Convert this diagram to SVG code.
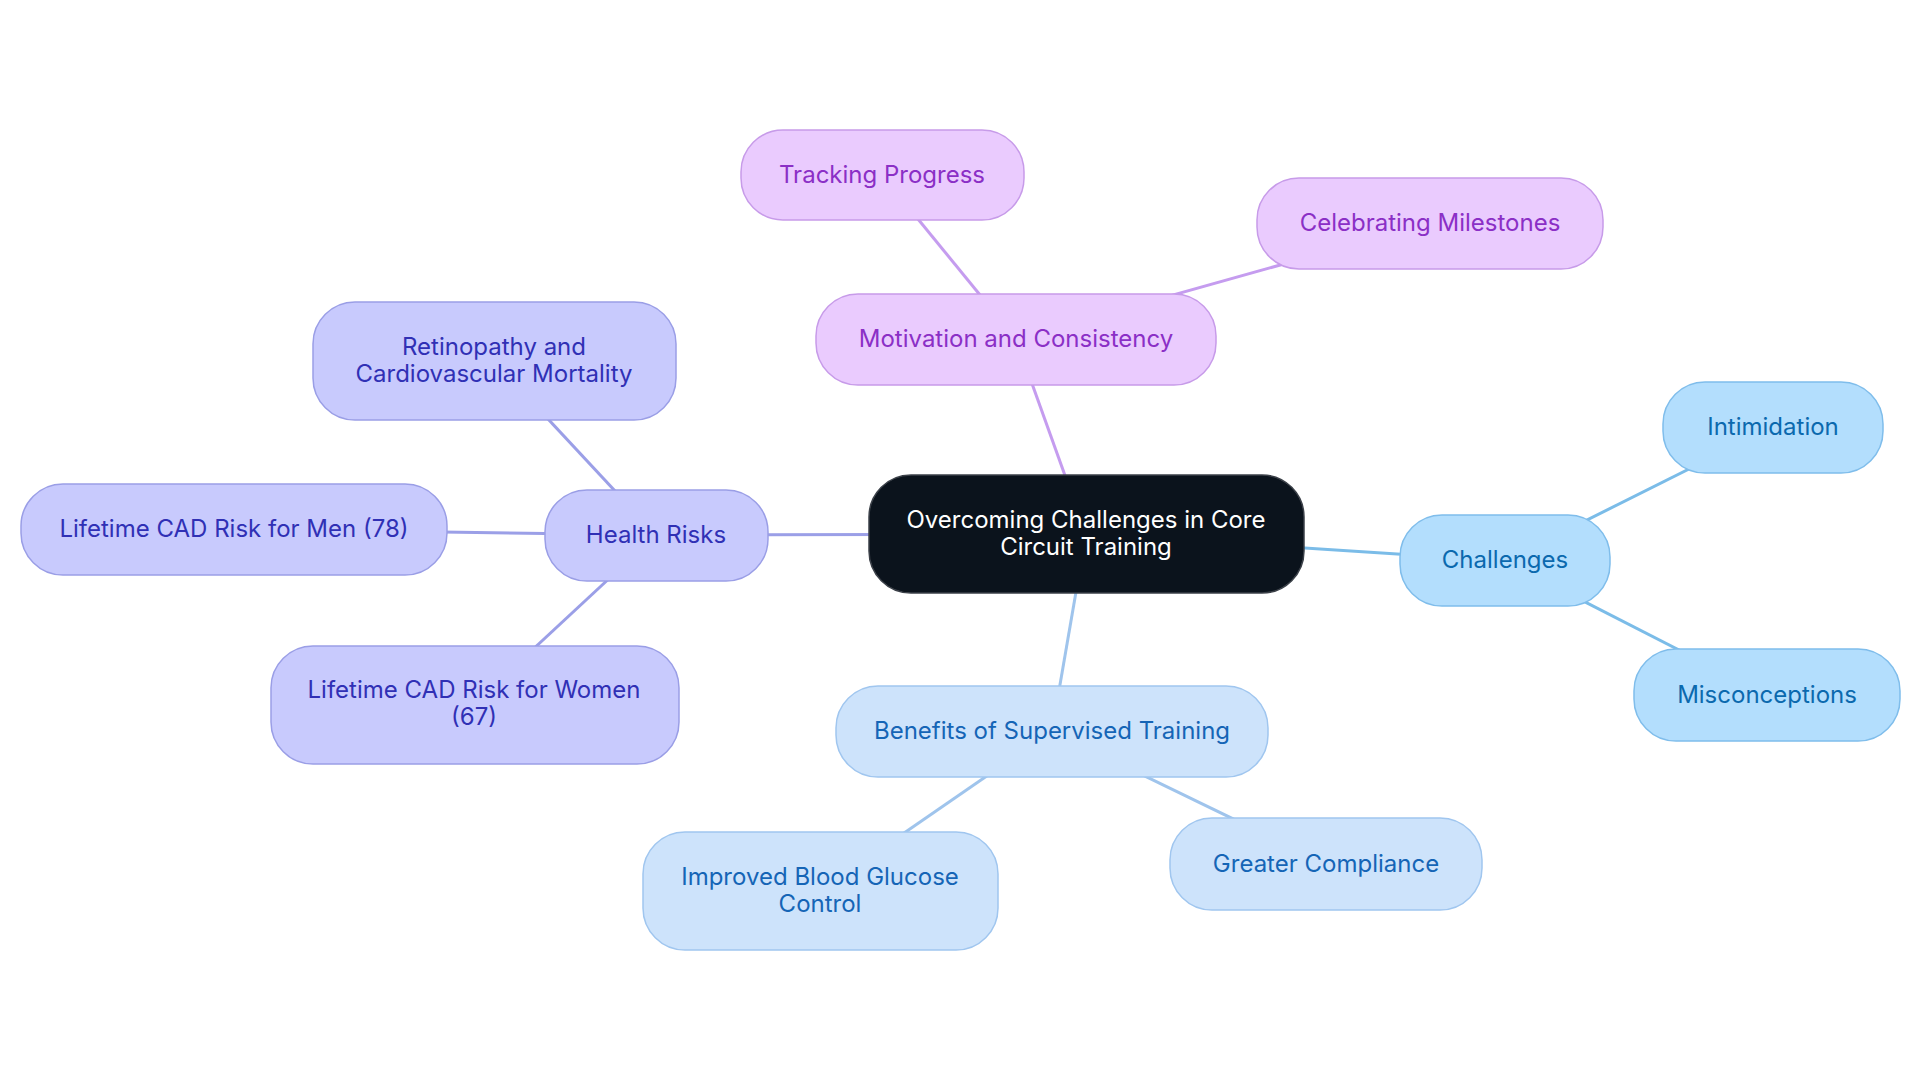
<svg xmlns="http://www.w3.org/2000/svg" width="1920" height="1083" viewBox="0 0 1920 1083">
<style>
text{font-family:Inter,"Noto Sans",sans-serif;font-size:24px;text-anchor:middle;dominant-baseline:central}
.root rect{fill:#0b131c;stroke:#3b4048;stroke-width:1.5}
.root text{fill:#ffffff}
.pu rect{fill:#eacbfe;stroke:#c79be9;stroke-width:1.5}
.pu text{fill:#8b2fc6}
.hr rect{fill:#c8cafd;stroke:#9a9ee6;stroke-width:1.5}
.hr text{fill:#3030b5}
.bn rect{fill:#cde3fb;stroke:#a0c6ef;stroke-width:1.5}
.bn text{fill:#1565b6}
.ch rect{fill:#b3defd;stroke:#7fbdeb;stroke-width:1.5}
.ch text{fill:#0b69ae}
#connectors line{stroke-width:3;fill:none}
</style>
<rect width="1920" height="1083" fill="#ffffff"/>
<g id="connectors">
<line x1="1086" y1="534" x2="1016" y2="339" stroke="#c59cef"/>
<line x1="1016" y1="339" x2="882" y2="175" stroke="#c59cef"/>
<line x1="1016" y1="339" x2="1430" y2="223" stroke="#c59cef"/>
<line x1="1086" y1="534" x2="656" y2="535" stroke="#9b9fe7"/>
<line x1="656" y1="535" x2="494" y2="361" stroke="#9b9fe7"/>
<line x1="656" y1="535" x2="234" y2="529" stroke="#9b9fe7"/>
<line x1="656" y1="535" x2="474" y2="704" stroke="#9b9fe7"/>
<line x1="1086" y1="534" x2="1052" y2="731" stroke="#9fc4ec"/>
<line x1="1052" y1="731" x2="820" y2="891" stroke="#9fc4ec"/>
<line x1="1052" y1="731" x2="1326" y2="864" stroke="#9fc4ec"/>
<line x1="1086" y1="534" x2="1505" y2="561" stroke="#7bbce8"/>
<line x1="1505" y1="561" x2="1773" y2="427" stroke="#7bbce8"/>
<line x1="1505" y1="561" x2="1767" y2="695" stroke="#7bbce8"/>
</g>
<g id="root" class="root">
<rect x="869" y="475" width="435" height="118" rx="42"/>
<text x="1086" y="519">Overcoming Challenges in Core</text>
<text x="1086" y="546">Circuit Training</text>
</g>
<g id="motivation" class="pu">
<rect x="816" y="294" width="400" height="91" rx="42"/>
<text x="1016" y="338">Motivation and Consistency</text>
</g>
<g id="tracking" class="pu">
<rect x="741" y="130" width="283" height="90" rx="42"/>
<text x="882" y="174">Tracking Progress</text>
</g>
<g id="celebrating" class="pu">
<rect x="1257" y="178" width="346" height="91" rx="42"/>
<text x="1430" y="222">Celebrating Milestones</text>
</g>
<g id="health" class="hr">
<rect x="545" y="490" width="223" height="91" rx="42"/>
<text x="656" y="534">Health Risks</text>
</g>
<g id="retinopathy" class="hr">
<rect x="313" y="302" width="363" height="118" rx="42"/>
<text x="494" y="346">Retinopathy and</text>
<text x="494" y="373">Cardiovascular Mortality</text>
</g>
<g id="men" class="hr">
<rect x="21" y="484" width="426" height="91" rx="42"/>
<text x="234" y="528">Lifetime CAD Risk for Men (78)</text>
</g>
<g id="women" class="hr">
<rect x="271" y="646" width="408" height="118" rx="42"/>
<text x="474" y="689">Lifetime CAD Risk for Women</text>
<text x="474" y="716">(67)</text>
</g>
<g id="benefits" class="bn">
<rect x="836" y="686" width="432" height="91" rx="42"/>
<text x="1052" y="730">Benefits of Supervised Training</text>
</g>
<g id="glucose" class="bn">
<rect x="643" y="832" width="355" height="118" rx="42"/>
<text x="820" y="876">Improved Blood Glucose</text>
<text x="820" y="903">Control</text>
</g>
<g id="compliance" class="bn">
<rect x="1170" y="818" width="312" height="92" rx="42"/>
<text x="1326" y="863">Greater Compliance</text>
</g>
<g id="challenges" class="ch">
<rect x="1400" y="515" width="210" height="91" rx="42"/>
<text x="1505" y="559">Challenges</text>
</g>
<g id="intimidation" class="ch">
<rect x="1663" y="382" width="220" height="91" rx="42"/>
<text x="1773" y="426">Intimidation</text>
</g>
<g id="misconceptions" class="ch">
<rect x="1634" y="649" width="266" height="92" rx="42"/>
<text x="1767" y="694">Misconceptions</text>
</g>
</svg>
